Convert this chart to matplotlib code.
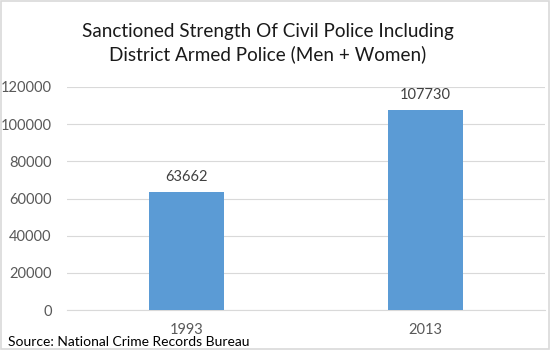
import matplotlib
matplotlib.use('Agg')
import matplotlib.pyplot as plt
from matplotlib.patches import Rectangle

years = ['1993', '2013']
strength = [63662, 107730]
y_ticks = [0, 20000, 40000, 60000, 80000, 100000, 120000]

plt.rcParams['font.family'] = ['Lato', 'DejaVu Sans']

fig = plt.figure(figsize=(5.5, 3.5), dpi=100)
ax = fig.add_axes([67 / 550, 40 / 350, 478 / 550, 223 / 350])

x = range(len(years))
bars = ax.bar(x, strength, width=0.31, color='#5b9bd5', zorder=3)
for b, v in zip(bars, strength):
    ax.text(b.get_x() + b.get_width() / 2, v + 4000, str(v),
            ha='center', va='bottom', fontsize=10.5, color='#404040')

ax.set_xlim(-0.5, 1.5)
ax.set_ylim(0, 120000)
ax.set_yticks(y_ticks)
ax.set_yticklabels([str(t) for t in y_ticks])
ax.set_xticks(list(x))
ax.set_xticklabels(years)
ax.tick_params(axis='both', length=0, labelsize=10.5, labelcolor='#595959')
ax.tick_params(axis='y', pad=11)
ax.tick_params(axis='x', pad=9)
ax.grid(axis='y', color='#d9d9d9', linewidth=0.8, zorder=0)
for s in ['top', 'right', 'left']:
    ax.spines[s].set_visible(False)
ax.spines['bottom'].set_color('#d9d9d9')

fig.text(268 / 550, 1 - 43 / 350,
         'Sanctioned Strength Of Civil Police Including\nDistrict Armed Police (Men + Women)',
         ha='center', va='center', fontsize=13.6, color='#1a1a1a', linespacing=1.35)
fig.text(8 / 550, 1 - 342 / 350, 'Source: National Crime Records Bureau',
         ha='left', va='center', fontsize=10, color='black')

# thin light border around the chart
fig.patches.append(Rectangle((0.002, 0.003), 0.996, 0.994, transform=fig.transFigure,
                             fill=False, edgecolor='#d9d9d9', linewidth=1.2))

fig.savefig('out.png', dpi=100)
